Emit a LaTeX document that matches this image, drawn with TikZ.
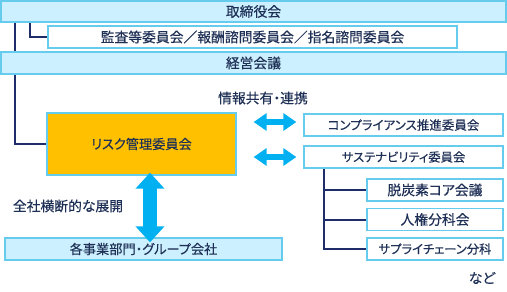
\documentclass[tikz,border=0pt]{standalone}
\usepackage{fontspec}
\newfontfamily\jp[RawFeature=+palt, FakeBold=0.35]{Noto Sans CJK JP}
\usetikzlibrary{arrows.meta,backgrounds}
\definecolor{barfill}{HTML}{CCF0FF}
\definecolor{barline}{HTML}{66CCEE}
\definecolor{navy}{HTML}{1F2D6B}
\definecolor{txt}{HTML}{1F3056}
\definecolor{gold}{HTML}{FFC000}
\definecolor{arrowc}{HTML}{00B0F0}
\begin{document}
\begin{tikzpicture}[x=1pt,y=-1pt,
  every node/.style={font=\jp\fontsize{13.8}{15}\selectfont, text=txt, inner sep=0pt},
  fs/.style={font=\jp\fontsize{#1}{15}\selectfont},
  bar/.style={draw=barline, fill=barfill, line width=1.3pt, minimum height=22pt},
  wbox/.style={draw=barline, fill=white, line width=1.3pt, minimum height=22pt},
  conn/.style={draw=navy, line width=2pt},
  hdbl/.style={draw=arrowc, line width=6pt, {Triangle[width=17pt,length=13pt]}-{Triangle[width=17pt,length=13pt]}},
  vdbl/.style={draw=arrowc, line width=14pt, {Triangle[width=28pt,length=16pt]}-{Triangle[width=28pt,length=16pt]}}
]
\useasboundingbox (0,0) rectangle (507,292);
\node[bar, minimum width=505pt, minimum height=21pt] (board) at (253.5,11.5) {取締役会};
\node[wbox, minimum width=409pt] (audit) at (252.5,37) {監査等委員会／報酬諮問委員会／指名諮問委員会};
\node[bar, minimum width=505pt] (mgmt) at (253.5,63) {経営会議};
\node (info) at (263,98) {情報共有・連携};
\node[draw=barline, fill=gold, line width=1.3pt, minimum width=189pt, minimum height=62pt, fs=13.2] (risk) at (141.5,144) {リスク管理委員会};
\node[wbox, minimum width=199pt, fs=12.5] (comp) at (403.5,125) {コンプライアンス推進委員会};
\node[wbox, minimum width=199pt, fs=12.3] (sust) at (403.5,157) {サステナビリティ委員会};
\node[wbox, minimum width=136pt] (dc) at (435,190) {脱炭素コア会議};
\node[wbox, minimum width=136pt] (hr) at (435,219.5) {人権分科会};
\node[wbox, minimum width=136pt, fs=12.3] (sc) at (435,249) {サプライチェーン分科};
\node[bar, minimum width=277pt, fs=13.2] (biz) at (143.5,249) {各事業部門・グループ会社};
\node (zensha) at (68,206) {全社横断的な展開};
\node (nado) at (482,278) {など};
\coordinate (lx) at (15,0);
\coordinate (ax) at (30,0);
\coordinate (tx) at (324,0);
\coordinate (vx) at (150,0);
\begin{scope}[on background layer]
\draw[conn] (board.south -| lx) |- (risk.west);
\draw[conn] (board.south -| ax) |- (audit.west);
\draw[conn] (sust.south -| tx) |- (dc.west);
\draw[conn] (sust.south -| tx) |- (hr.west);
\draw[conn] (sust.south -| tx) |- (sc.west);
\end{scope}
\draw[hdbl] ([xshift=17pt,yshift=3pt]risk.east |- comp.west) -- ([xshift=-7pt,yshift=3pt]comp.west);
\draw[hdbl] ([xshift=17pt]risk.east |- sust.west) -- ([xshift=-7pt]sust.west);
\draw[vdbl] ([yshift=3pt]risk.south -| vx) -- ([yshift=-5pt]biz.north -| vx);
\end{tikzpicture}
\end{document}
